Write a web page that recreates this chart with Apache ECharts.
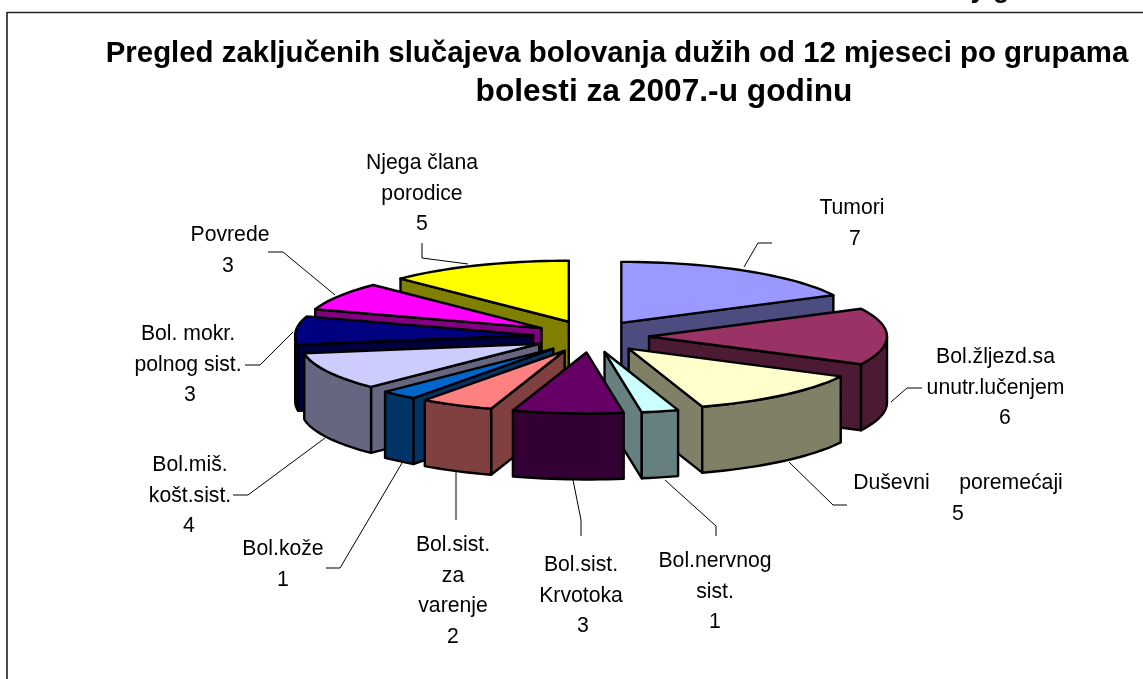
<!DOCTYPE html>
<html>
<head>
<meta charset="utf-8">
<style>html,body{margin:0;padding:0;background:#fff}#c{width:1143px;height:679px}</style>
<script src="https://cdn.jsdelivr.net/npm/echarts@6/dist/echarts.min.js"></script>
</head>
<body>
<div id="c"></div>
<script>
var titleLine1 = 'Pregled zaključenih slučajeva bolovanja dužih od 12 mjeseci po grupama';
var titleLine2 = 'bolesti za 2007.-u godinu';
var categories = ['Tumori','Bol.žljezd.sa\nunutr.lučenjem','Duševni     poremećaji','Bol.nervnog\nsist.','Bol.sist.\nKrvotoka','Bol.sist.\nza\nvarenje','Bol.kože','Bol.miš.\nkošt.sist.','Bol. mokr.\npolnog sist.','Povrede','Njega člana\nporodice'];
var values = [7,6,5,1,3,2,1,4,3,3,5];
var topColors = ['#9999FF','#993366','#FFFFCC','#CCFFFF','#660066','#FF8080','#0066CC','#CCCCFF','#000080','#FF00FF','#FFFF00'];
var sideColors = ['#4C4C80','#4C1A33','#808066','#668080','#330033','#804040','#003366','#666680','#000040','#800080','#808000'];

// Layout of the projected pie
var geo = {cx:591, cy:336.5, rx:238, ry:61, explodeX:58, explodeY:16, depth:66};
// Label anchor: name centre x, first line centre y, value centre x
var labelPos = [[852,208,855],[995.5,357,1005],[958,483,958],[715,561,715],[581,565,583],[453,545,453],[283,549,283],[190,465,189],[188,334,190],[230,235,228],[422,163,422]];
var leaders = [
 [[744,267],[758,243],[772,243]],
 [[891,402],[907,388],[922,388]],
 [[789,462],[833,505],[847,505]],
 [[665,480],[716,526],[716,536]],
 [[573,480],[581,520],[581,536]],
 [[456,472],[456,520]],
 [[402,463],[340,568],[326,568]],
 [[325,438],[248,495],[233,495]],
 [[293,332],[260,365],[245,365]],
 [[335,295],[283,252],[268,252]],
 [[468,264],[422,258],[422,243]]
];

var total = values.reduce(function(a,b){return a+b;},0);
var spans = [], run = 0;
values.forEach(function(v){
  var a0 = run/total*360; run += v; spans.push([a0, run/total*360]);
});
function rad(a){return a*Math.PI/180;}
var order = values.map(function(_,i){return i;}).sort(function(p,q){
  var mp=(spans[p][0]+spans[p][1])/2, mq=(spans[q][0]+spans[q][1])/2;
  return (-Math.cos(rad(mp))) - (-Math.cos(rad(mq)));
});
var seriesData = order.map(function(i){return [i, values[i]];});

function renderSlice(params, api){
  var i = api.value(0);
  var a0 = spans[i][0], a1 = spans[i][1], mid = (a0+a1)/2;
  var ax = geo.cx + geo.explodeX*Math.sin(rad(mid));
  var ay = geo.cy - geo.explodeY*Math.cos(rad(mid));
  function rim(a){return [ax+geo.rx*Math.sin(rad(a)), ay-geo.ry*Math.cos(rad(a))];}
  function down(p){return [p[0], p[1]+geo.depth];}
  var stroke = {stroke:'#000', lineWidth:2.4, lineJoin:'round'};
  function face(points, fill){
    return {type:'polygon', shape:{points:points}, style:Object.assign({fill:fill}, stroke)};
  }
  var kids = [];
  var apex=[ax,ay];
  // radial walls facing the viewer
  if(Math.sin(rad(a0))<-1e-6){
    kids.push(face([apex,rim(a0),down(rim(a0)),down(apex)], sideColors[i]));
  }
  if(Math.sin(rad(a1))>1e-6){
    kids.push(face([apex,rim(a1),down(rim(a1)),down(apex)], sideColors[i]));
  }
  // outer wall, front half only
  var s = Math.max(a0,90), e = Math.min(a1,270);
  if(e>s){
    var upper=[], lower=[], m=Math.ceil((e-s)/2);
    for(var j=0;j<=m;j++){var p=rim(s+(e-s)*j/m);upper.push(p);lower.unshift(down(p));}
    kids.push(face(upper.concat(lower), sideColors[i]));
  }
  // top face
  var pts=[apex];
  var n=Math.ceil((a1-a0)/2);
  for(var k=0;k<=n;k++){pts.push(rim(a0+(a1-a0)*k/n));}
  kids.push(face(pts, topColors[i]));
  return {type:'group', children:kids};
}

var font = '21.2px "Liberation Sans", Arial, sans-serif';
var graphics = [
  {type:'line', z:1, shape:{x1:7,y1:12.5,x2:1143,y2:12.5}, style:{stroke:'#222',lineWidth:1.5}},
  {type:'line', z:1, shape:{x1:7,y1:12,x2:7,y2:679}, style:{stroke:'#111',lineWidth:1.5}},
  {type:'text', z:1, style:{x:990,y:3,text:'y g',font:'bold 27px "Liberation Sans", Arial, sans-serif',fill:'#000',textAlign:'center',textVerticalAlign:'bottom'}}
];
leaders.forEach(function(pts){
  graphics.push({type:'polyline', z:1, shape:{points:pts}, style:{stroke:'#000',lineWidth:1,fill:null}});
});
categories.forEach(function(name,i){
  var lines = name.split('\n').length, lp = labelPos[i];
  graphics.push({type:'text', z:5, style:{
    x:lp[0], y:lp[1]-15, text:name, font:font, fill:'#000',
    textAlign:'center', textVerticalAlign:'top', lineHeight:30.5
  }});
  graphics.push({type:'text', z:5, style:{
    x:lp[2], y:lp[1]-15+lines*30.5, text:String(values[i]), font:font, fill:'#000',
    textAlign:'center', textVerticalAlign:'top', lineHeight:30.5
  }});
});

var titleFont = '"Liberation Sans", Arial, sans-serif';
var chart = echarts.init(document.getElementById('c'), null, {renderer:'canvas'});
chart.setOption({
  animation:false,
  backgroundColor:'#fff',
  title:[
    {text:titleLine1, left:612, top:30, textAlign:'center',
     textStyle:{fontFamily:titleFont, fontWeight:'bold', fontSize:29.4, lineHeight:38, color:'#000'}},
    {text:titleLine2, left:659, top:68, textAlign:'center',
     textStyle:{fontFamily:titleFont, fontWeight:'bold', fontSize:31.7, lineHeight:38, color:'#000'}}
  ],
  graphic:{elements:graphics},
  series:[{type:'custom', coordinateSystem:'none', z:3, data:seriesData, renderItem:renderSlice, silent:true}]
});
</script>
</body>
</html>
